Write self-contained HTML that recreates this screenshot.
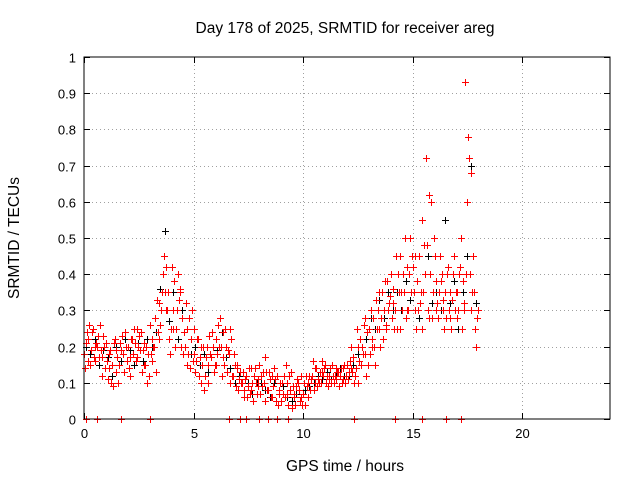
<!DOCTYPE html>
<html><head><meta charset="utf-8"><style>
body{margin:0;background:#fff;}
svg{display:block;font-family:"Liberation Sans",sans-serif;}
</style></head><body>
<svg id="c" width="640" height="480">
<rect x="0" y="0" width="640" height="480" fill="#fff"/>
<text x="345" y="33" font-size="15.5" text-anchor="middle">Day 178 of 2025, SRMTID for receiver areg</text>
<text x="345" y="471" font-size="15.5" text-anchor="middle">GPS time / hours</text>
<text transform="translate(19,238) rotate(-90)" font-size="15.5" text-anchor="middle">SRMTID / TECUs</text>
<g id="grid"></g><g id="marks"></g>
<rect x="84" y="57" width="526" height="362" fill="none" stroke="#000" stroke-width="1"/>
</svg>
<script>
const times=[0,0.2,0.4,0.6,0.8,1,1.2,1.4,1.6,1.8,2,2.2,2.4,2.6,2.8,3,3.2,3.4,3.6,3.8,4,4.2,4.4,4.6,4.8,5,5.2,5.4,5.6,5.8,6,6.2,6.4,6.6,6.8,7,7.2,7.4,7.6,7.8,8,8.2,8.4,8.6,8.8,9,9.2,9.4,9.6,9.8,10,10.2,10.4,10.6,10.8,11,11.2,11.4,11.6,11.8,12,12.2,12.4,12.6,12.8,13,13.2,13.4,13.6,13.8,14,14.2,14.4,14.6,14.8,15,15.2,15.4,15.6,15.8,16,16.2,16.4,16.6,16.8,17,17.2,17.4,17.6,17.8];
const red1=[.18,.22,.25,.20,.17,.21,.19,.22,.15,.18,.20,.22,.17,.24,.15,.26,.20,.32,.40,.30,.42,.25,.35,.20,.28,.18,.22,.15,.20,.17,.22,.28,.15,.18,.12,.15,.10,.12,.08,.14,.15,.10,.08,.06,.12,.05,.15,.08,.06,.08,.07,.10,.12,.14,.10,.15,.12,.10,.13,.11,.15,.20,.14,.22,.18,.25,.28,.30,.35,.25,.40,.30,.45,.35,.30,.42,.38,.55,.72,.40,.45,.35,.30,.42,.33,.28,.50,.93,.40,.35];
const red2=[.14,.26,.17,.23,.12,.16,.10,.19,.21,.13,.14,.18,.25,.13,.20,.18,.28,.22,.45,.35,.25,.30,.20,.32,.14,.25,.12,.20,.10,.24,.15,.20,.25,.10,.18,.08,.13,.06,.14,.10,.07,.17,.13,.09,.04,.10,.07,.13,.04,.05,.10,.06,.16,.09,.13,.10,.14,.12,.09,.14,.11,.13,.25,.15,.28,.18,.20,.35,.22,.38,.28,.45,.25,.50,.40,.35,.30,.25,.48,.60,.38,.45,.25,.30,.40,.35,.25,.40,.68,.25];
const red3=[.21,.15,.20,.17,.23,.11,.15,.13,.19,.24,.17,.25,.20,.19,.10,.16,.13,.26,.35,.22,.30,.40,.28,.15,.22,.13,.17,.08,.15,.20,.18,.12,.20,.25,.15,.11,.06,.09,.10,.07,.12,.05,.11,.14,.08,.07,.10,.03,.09,.12,.04,.12,.08,.11,.16,.12,.10,.14,.12,.15,.13,.17,.10,.20,.12,.30,.15,.25,.30,.30,.32,.25,.35,.28,.50,.30,.45,.35,.30,.28,.30,.38,.35,.28,.45,.30,.38,.60,.30,.20];
const red4=[.24,.19,.16,.26,.20,.14,.09,.17,.23,.20,.12,.21,.23,.15,.18,.22,.33,.30,.42,.18,.38,.33,.18,.25,.30,.16,.20,.12,.23,.13,.26,.17,.13,.22,.09,.13,.08,.14,.05,.11,.09,.13,.06,.11,.07,.12,.04,.09,.11,.06,.12,.08,.14,.10,.12,.09,.15,.11,.14,.10,.16,.10,.20,.18,.24,.22,.33,.20,.38,.32,.36,.40,.30,.42,.35,.45,.32,.48,.62,.35,.32,.40,.28,.35,.30,.40,.32,.78,.35,.28];
const red5=[.16,.24,.21,.19,.14,.18,.21,.10,.18,.16,.22,.16,.19,.21,.12,.20,.24,.35,.30,.25,.20,.36,.24,.18,.16,.22,.10,.17,.18,.15,.20,.24,.19,.12,.14,.10,.11,.07,.12,.09,.13,.08,.12,.05,.10,.06,.12,.07,.10,.04,.09,.11,.10,.13,.14,.11,.12,.13,.10,.12,.14,.12,.16,.26,.15,.20,.25,.28,.26,.34,.25,.35,.40,.30,.45,.25,.35,.40,.28,.50,.28,.33,.40,.25,.35,.42,.30,.72,.45,.30];
const black1=[.20,.18,.22,.15,.19,.17,.12,.20,.16,.22,.19,.15,.21,.16,.22,.20,.24,.36,.52,.27,.35,.22,.30,.25,.18,.20,.15,.18,.13,.20,.19,.24,.17,.14,.10,.12,.08,.10,.07,.10,.10,.08,.06,.10,.07,.09,.06,.05,.07,.06,.08,.09,.10,.12,.11,.13,.11,.12,.14,.12,.12,.15,.18,.20,.22,.28,.25,.33,.28,.35,.30,.35,.30,.38,.33,.30,.28,.35,.45,.32,.35,.30,.55,.32,.38,.25,.35,.45,.70,.32];
const zeroTimes=[0.1,0.6,1.7,3.0,6.6,7.1,7.4,8.0,8.4,8.8,9.3,12.3,14.2,15.4,16.5,17.2];
const xTicks=[0,5,10,15,20];
const yTicks=[0,0.1,0.2,0.3,0.4,0.5,0.6,0.7,0.8,0.9,1];
const yTickLabels=["0","0.1","0.2","0.3","0.4","0.5","0.6","0.7","0.8","0.9","1"];

const NS="http://www.w3.org/2000/svg";
const X0=84,X1=610,Y0=419,Y1=57;
const xs=t=>X0+(t/24)*(X1-X0);
const ys=v=>Y0-v*(Y0-Y1);
const grid=document.getElementById('grid'),marks=document.getElementById('marks');
function mk(tag,at,parent){const e=document.createElementNS(NS,tag);for(const k in at)e.setAttribute(k,at[k]);parent.appendChild(e);return e;}
yTicks.forEach((v,i)=>{
  const y=Math.round(ys(v))+0.5;
  if(v>0&&v<1){const g=mk('line',{x1:X0,x2:X1,y1:y,y2:y,stroke:'#a0a0a0','stroke-dasharray':'1,3'},grid);
  
  }
  mk('line',{x1:X0,x2:X0+6,y1:y,y2:y,stroke:'#000'},grid);
  mk('line',{x1:X1-6,x2:X1,y1:y,y2:y,stroke:'#000'},grid);
  const t=mk('text',{x:X0-8,y:y+5,'font-size':13,'text-anchor':'end'},grid);
  t.textContent=yTickLabels[i];
  
  
});
xTicks.forEach(v=>{
  const x=Math.round(xs(v))+0.5;
  if(v>0){const g=mk('line',{x1:x,x2:x,y1:Y1,y2:Y0,stroke:'#a0a0a0','stroke-dasharray':'1,3'},grid);
  
  }
  mk('line',{x1:x,x2:x,y1:Y0,y2:Y0-6,stroke:'#000'},grid);
  mk('line',{x1:x,x2:x,y1:Y1,y2:Y1+6,stroke:'#000'},grid);
  const t=mk('text',{x:x,y:Y0+19,'font-size':13,'text-anchor':'middle'},grid);
  t.textContent=String(v);
  
  
});
function plus(t,v,col){
  const x=Math.round(xs(t))+0.5,y=Math.round(ys(v))+0.5;
  const p=mk('path',{d:`M${x-3.5},${y}H${x+3.5}M${x},${y-3.5}V${y+3.5}`,stroke:col,'stroke-width':1,fill:'none'},marks);
  
  
}
times.forEach((t,i)=>plus(t+0.08,black1[i],'#000'));
[red1,red2,red3,red4,red5].forEach((s,k)=>times.forEach((t,i)=>plus(t+k*0.04,s[i],'#f00')));
zeroTimes.forEach(t=>plus(t,0,'#f00'));
</script>
</body></html>
